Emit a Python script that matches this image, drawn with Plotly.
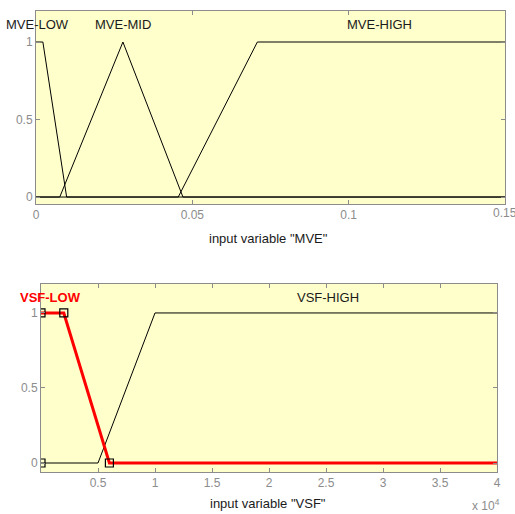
import plotly.graph_objects as go

# ---- data ----
mve_low_x = [0.0, 0.0022, 0.0098, 0.15]
mve_low_y = [1, 1, 0, 0]
mve_mid_x = [0.0, 0.0076, 0.0278, 0.0470, 0.15]
mve_mid_y = [0, 0, 1, 0, 0]
mve_high_x = [0.0, 0.0455, 0.0708, 0.15]
mve_high_y = [0, 0, 1, 1]
mve_labels = ["MVE-LOW", "MVE-MID", "MVE-HIGH"]
mve_label_x = [0.0005, 0.0278, 0.110]

vsf_low_x = [0, 2000, 6000, 40000]
vsf_low_y = [1, 1, 0, 0]
vsf_low_mk_x = [0, 0, 2000, 6000]
vsf_low_mk_y = [0, 1, 1, 0]
vsf_high_x = [0, 5000, 10000, 40000]
vsf_high_y = [0, 0, 1, 1]
vsf_labels = ["VSF-LOW", "VSF-HIGH"]
vsf_label_x = [800, 25200]

mve_ticks = [0, 0.05, 0.1]
mve_ticktext = ["0", "0.05", "0.1"]
mve_edge_tick = 0.15
mve_edge_ticktext = "0.15"
vsf_ticks = [5000, 10000, 15000, 20000, 25000, 30000, 35000, 40000]
vsf_ticktext = ["0.5", "1", "1.5", "2", "2.5", "3", "3.5", "4"]
y_ticks = [0, 0.5, 1]
y_ticktext = ["0", "0.5", "1"]

W, H = 515, 514
def px(x): return x / W
def py(y): return 1 - y / H

FONT = "Arial, Liberation Sans, sans-serif"
BG = "#FFFFCC"
GRAY = "#8c8c8c"
TXT = "#1a1a1a"

fig = go.Figure()
for xs, ys in [(mve_low_x, mve_low_y), (mve_mid_x, mve_mid_y), (mve_high_x, mve_high_y)]:
    fig.add_trace(go.Scatter(x=xs, y=ys, mode="lines", line=dict(color="black", width=1),
                             xaxis="x", yaxis="y", showlegend=False, hoverinfo="skip"))

fig.add_trace(go.Scatter(x=vsf_high_x, y=vsf_high_y, mode="lines", line=dict(color="black", width=1),
                         xaxis="x2", yaxis="y2", showlegend=False, hoverinfo="skip"))
fig.add_trace(go.Scatter(x=vsf_low_x, y=vsf_low_y, mode="lines", line=dict(color="red", width=3),
                         xaxis="x2", yaxis="y2", showlegend=False, hoverinfo="skip"))
fig.add_trace(go.Scatter(x=vsf_low_mk_x, y=vsf_low_mk_y, mode="markers",
                         marker=dict(symbol="square-open", size=8, color="black", line=dict(width=1.2)),
                         xaxis="x2", yaxis="y2", showlegend=False, hoverinfo="skip", cliponaxis=True))

axis_common = dict(showgrid=False, zeroline=False, showline=True, linecolor=GRAY, linewidth=1,
                   mirror="ticks", ticks="inside", ticklen=4, tickcolor=GRAY, automargin=False,
                   tickfont=dict(family=FONT, size=12, color=GRAY), fixedrange=True)

fig.update_layout(
    width=W, height=H, margin=dict(l=0, r=0, t=0, b=0, pad=0),
    paper_bgcolor="white", plot_bgcolor=BG,
    xaxis=dict(domain=[px(36), px(505)], range=[0, 0.15], anchor="y",
               tickvals=mve_ticks, ticktext=mve_ticktext, **axis_common),
    yaxis=dict(domain=[py(204), py(11)], range=[-0.045, 1.2], anchor="x",
               tickvals=y_ticks, ticktext=y_ticktext, **axis_common),
    xaxis2=dict(domain=[px(41), px(497)], range=[0, 40000], anchor="y2",
                tickvals=vsf_ticks, ticktext=vsf_ticktext, **axis_common),
    yaxis2=dict(domain=[py(472), py(284)], range=[-0.06, 1.193], anchor="x2",
                tickvals=y_ticks, ticktext=y_ticktext, **axis_common),
)

anns = []
for t, x in zip(mve_labels, mve_label_x):
    anns.append(dict(x=x, y=1.11, xref="x", yref="y", text=t, showarrow=False,
                     xanchor="center", yanchor="middle",
                     font=dict(family=FONT, size=13, color=TXT)))
for i, (t, x) in enumerate(zip(vsf_labels, vsf_label_x)):
    anns.append(dict(x=x, y=1.1, xref="x2", yref="y2", text=("<b>%s</b>" % t) if i == 0 else t,
                     showarrow=False, xanchor="center", yanchor="middle",
                     font=dict(family=FONT, size=13, color="red" if i == 0 else TXT)))
# edge tick label, partially cut by the page edge as in the original
anns.append(dict(x=mve_edge_tick, y=py(213), xref="x", yref="paper", text=mve_edge_ticktext,
                 xanchor="center", yanchor="middle", showarrow=False,
                 font=dict(family=FONT, size=12, color=GRAY)))
anns.append(dict(x=px(268), y=py(238), xref="paper", yref="paper", text='input variable "MVE"',
                 xanchor="center", yanchor="middle",
                 showarrow=False, font=dict(family=FONT, size=13, color=TXT)))
anns.append(dict(x=px(268), y=py(503), xref="paper", yref="paper", text='input variable "VSF"',
                 xanchor="center", yanchor="middle",
                 showarrow=False, font=dict(family=FONT, size=13, color=TXT)))
anns.append(dict(x=px(502), y=py(505), xref="paper", yref="paper", text="x 10<sup>4</sup>",
                 xanchor="right", yanchor="middle",
                 showarrow=False, font=dict(family=FONT, size=12, color=GRAY)))
fig.update_layout(annotations=anns)

fig.write_html(
    "out.html",
    post_script=("document.documentElement.style.margin='0';document.body.style.margin='0';"
                 "document.documentElement.style.overflow='hidden';document.body.style.overflow='hidden';"),
)
